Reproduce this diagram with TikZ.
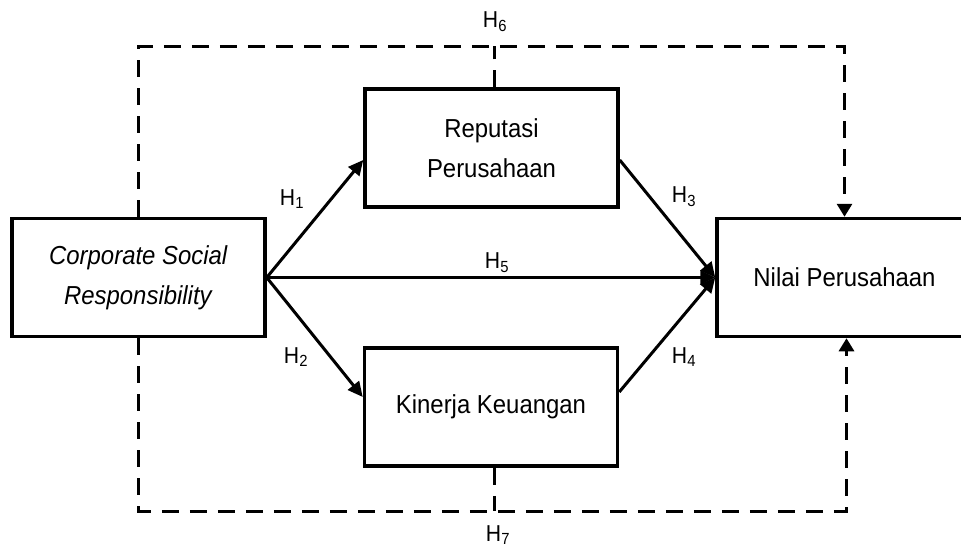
\documentclass[tikz,border=0pt]{standalone}
\usepackage{fontspec}
\setmainfont{Liberation Sans}[FakeStretch=0.92]
\usetikzlibrary{arrows.meta}

\begin{document}
\begin{tikzpicture}[
        x=1pt, y=-1pt,
        font=\fontsize{26}{40}\selectfont,
        varbox/.style={draw, line width=3.5pt, minimum width=253pt,
          minimum height=118pt, align=center, inner sep=0pt},
        path/.style={line width=3pt, -{Triangle[length=15pt,width=14pt]}},
        dashline/.style={line width=3pt, dash pattern=on 17pt off 11pt},
        hyp/.style={font=\fontsize{23}{26}\selectfont, inner sep=0pt}]

  \useasboundingbox (0,0) rectangle (961,549);

  % variables -----------------------------------------------
  \node[varbox] (csr)   at (138.5,277.5) {\textit{Corporate Social}\\\textit{Responsibility}};
  \node[varbox] (rep)   at (491.5,148)   {Reputasi\\Perusahaan};
  \node[varbox] (kin)   at (491,407)     {Kinerja Keuangan};
  \node[varbox, minimum width=255pt] (nilai) at (844.5,277.5) {Nilai Perusahaan};

  % direct paths --------------------------------------------
  \draw[path] (csr.east) -- ([yshift=-12pt]rep.west);
  \draw[path] (csr.east) -- ([yshift=10pt]kin.west);
  \draw[path] (csr.east) -- (nilai.west);
  \draw[path] ([yshift=-12pt]rep.east) -- (nilai.west);
  \draw[path] ([yshift=15pt]kin.east) -- (nilai.west);

  % mediated paths ------------------------------------------
  \coordinate (top) at (494,46);
  \coordinate (bot) at (494,511);
  \draw[dashline, -{Triangle[length=13pt,width=15pt]}]
        (csr.north) |- (top) -| (nilai.north);
  \draw[dashline] (rep.north -| top) -- (top);
  \draw[dashline, -{Triangle[length=13pt,width=15pt]}]
        (csr.south) |- (bot) -| ([xshift=2pt]nilai.south);
  \draw[dashline] (kin.south -| bot) -- (bot);

  % hypotheses ----------------------------------------------
  \node[hyp] (h1) at (292,199) {H\textsubscript{1}};
  \node[hyp] (h2) at (296,357) {H\textsubscript{2}};
  \node[hyp] (h3) at (684,197) {H\textsubscript{3}};
  \node[hyp] (h4) at (684,357) {H\textsubscript{4}};
  \node[hyp] (h5) at (497,263) {H\textsubscript{5}};
  \node[hyp] (h6) at (495,22)  {H\textsubscript{6}};
  \node[hyp] (h7) at (498,535) {H\textsubscript{7}};

\end{tikzpicture}
\end{document}
